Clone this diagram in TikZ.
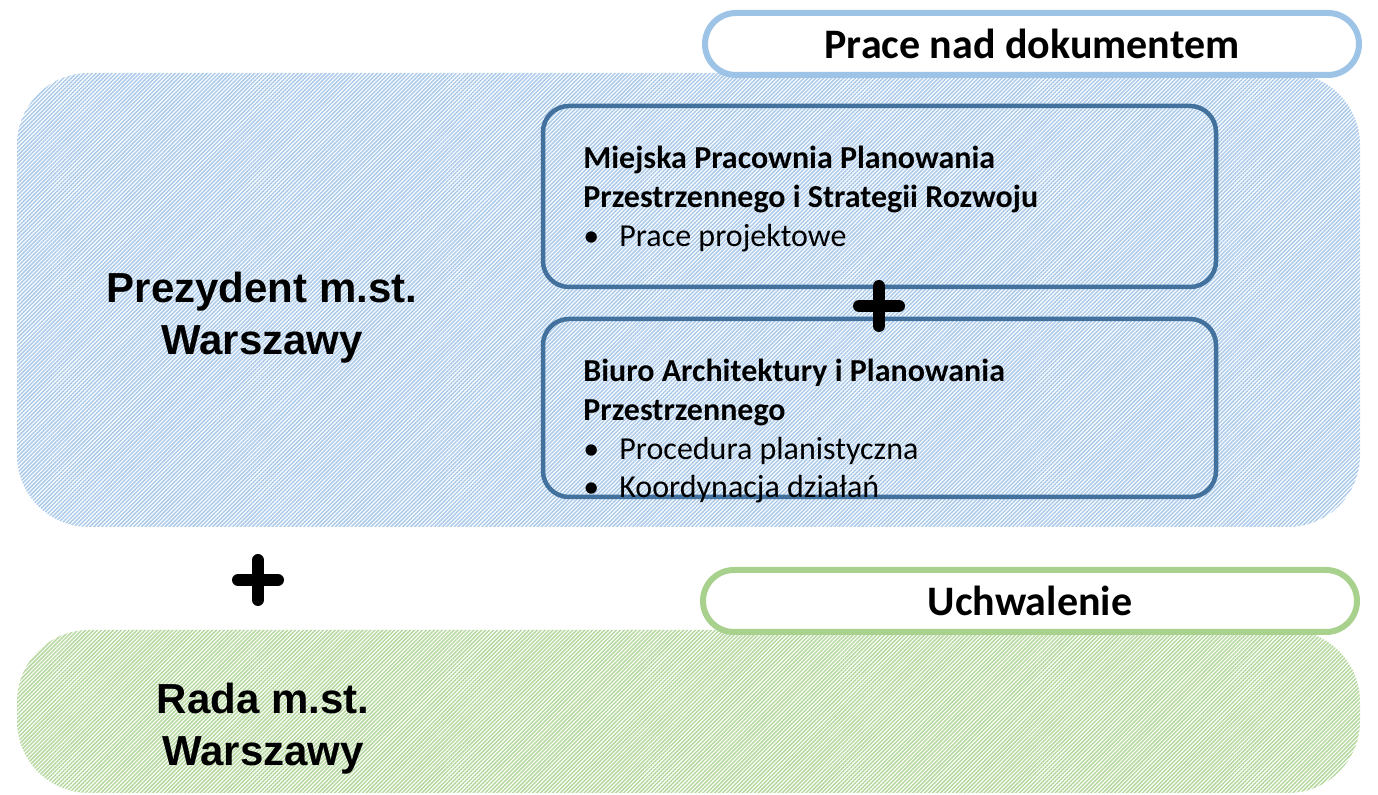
\documentclass[tikz,border=0pt]{standalone}
\usepackage{fontspec}
\setmainfont{Carlito}
\newfontfamily\arialfont{Liberation Sans}
\usetikzlibrary{patterns.meta}

\definecolor{hatchblue}{HTML}{ABCAEA}
\definecolor{hatchgreen}{HTML}{B5D89E}
\definecolor{lineblue}{HTML}{9DC3E6}
\definecolor{linegreen}{HTML}{A9D18E}
\definecolor{boxblue}{HTML}{41719C}

\begin{document}
\begin{tikzpicture}[x=0.5pt,y=-0.5pt,
  area/.style={rounded corners=36pt, pattern={Lines[angle=45,distance=1.4pt,line width=0.75pt]}},
  stagebox/.style={draw, line width=3pt, fill=white, rounded corners=15.5pt, minimum width=327pt, minimum height=31pt, inner sep=0pt, font=\bfseries\fontsize{21}{25}\selectfont},
  unitbox/.style={draw=boxblue, line width=2.25pt, rounded corners=13pt},
  unittext/.style={anchor=north west, align=left, inner sep=0pt, font=\fontsize{16}{19.3}\selectfont},
  bodytext/.style={anchor=north, align=center, inner sep=0pt, font=\arialfont\bfseries\fontsize{21}{26}\selectfont},
  plussign/.style={line width=6pt, line cap=round}]

\def\arm{20}
\def\bulletgap{18pt}

\useasboundingbox (0,0) rectangle (1378,795);

% hatched areas
\path[area, pattern color=hatchblue] (17,73) rectangle (1360,527);
\path[area, pattern color=hatchgreen] (17,630) rectangle (1360,793);

\node[bodytext] (prezydent) at (262,272) {Prezydent m.st.\\Warszawy};
\node[bodytext] (rada) at (263,683) {Rada m.st.\\Warszawy};

% stages
\node[stagebox, draw=lineblue] (prace) at (1032,44) {Prace nad dokumentem};
\node[stagebox, draw=linegreen] (uchwalenie) at (1030,601) {Uchwalenie};

% units
\draw[unitbox] (543,106) rectangle (1216,287);
\draw[unitbox] (543,319) rectangle (1216,497);

\node[unittext] (mppp) at (583,146) {{\bfseries Miejska Pracownia Planowania}\\
  {\bfseries Przestrzennego i Strategii Rozwoju}\\
  \makebox[\bulletgap][l]{\textbullet}Prace projektowe};
\node[unittext] (biuro) at (583,359) {{\bfseries Biuro Architektury i Planowania}\\
  {\bfseries Przestrzennego}\\
  \makebox[\bulletgap][l]{\textbullet}Procedura planistyczna\\
  \makebox[\bulletgap][l]{\textbullet}Koordynacja działań};

% plus signs
\coordinate (plusunits) at (879,306);
\coordinate (plusorgans) at (258,580);
\draw[plussign] ([xshift=-\arm*0.5pt]plusunits) -- ([xshift=\arm*0.5pt]plusunits);
\draw[plussign] ([yshift=-\arm*0.5pt]plusunits) -- ([yshift=\arm*0.5pt]plusunits);
\draw[plussign] ([xshift=-\arm*0.5pt]plusorgans) -- ([xshift=\arm*0.5pt]plusorgans);
\draw[plussign] ([yshift=-\arm*0.5pt]plusorgans) -- ([yshift=\arm*0.5pt]plusorgans);

\end{tikzpicture}
\end{document}
